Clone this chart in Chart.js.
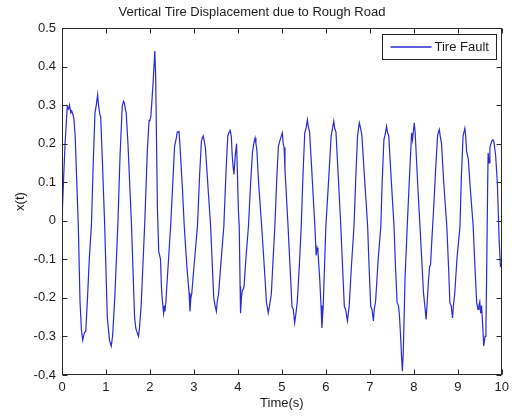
<!DOCTYPE html>
<html>
<head>
<meta charset="utf-8">
<script src="https://cdn.jsdelivr.net/npm/chart.js@4.4.1/dist/chart.umd.min.js"></script>
<style>
  html, body { margin: 0; padding: 0; background: #fff; }
  canvas { display: block; }
</style>
</head>
<body>
<canvas id="tireChart" width="514" height="417"></canvas>
<script>
// values
const timeSec = [
  0.00, 0.01, 0.04, 0.07, 0.10, 0.12, 0.15, 0.17, 0.20, 0.22, 0.25, 0.27, 0.30, 0.33, 0.37, 0.41, 0.44, 0.47, 0.49, 0.51,
  0.54, 0.58, 0.62, 0.67, 0.71, 0.75, 0.78, 0.81, 0.83, 0.86, 0.88, 0.92, 0.97, 1.03, 1.08, 1.12, 1.15, 1.20, 1.27, 1.32,
  1.37, 1.40, 1.42, 1.44, 1.46, 1.50, 1.58, 1.65, 1.68, 1.71, 1.74, 1.76, 1.80, 1.88, 1.94, 1.98, 2.00, 2.02, 2.05, 2.08,
  2.11, 2.13, 2.15, 2.17, 2.20, 2.22, 2.24, 2.26, 2.28, 2.31, 2.33, 2.34, 2.36, 2.40, 2.47, 2.52, 2.56, 2.60, 2.62, 2.66,
  2.68, 2.70, 2.74, 2.78, 2.84, 2.89, 2.91, 2.93, 2.95, 3.00, 3.08, 3.13, 3.17, 3.19, 3.21, 3.23, 3.26, 3.29, 3.33, 3.38,
  3.45, 3.48, 3.51, 3.53, 3.56, 3.62, 3.68, 3.73, 3.77, 3.80, 3.82, 3.85, 3.87, 3.89, 3.91, 3.94, 3.97, 3.99, 4.01, 4.03,
  4.05, 4.06, 4.08, 4.10, 4.12, 4.14, 4.18, 4.24, 4.29, 4.33, 4.36, 4.39, 4.41, 4.43, 4.47, 4.54, 4.60, 4.65, 4.67, 4.69,
  4.72, 4.76, 4.80, 4.84, 4.88, 4.92, 4.96, 5.01, 5.03, 5.05, 5.07, 5.10, 5.14, 5.19, 5.23, 5.26, 5.29, 5.32, 5.35, 5.40,
  5.44, 5.48, 5.52, 5.55, 5.58, 5.60, 5.63, 5.68, 5.75, 5.78, 5.80, 5.82, 5.86, 5.89, 5.91, 5.94, 6.00, 6.06, 6.12, 6.18,
  6.20, 6.23, 6.28, 6.34, 6.38, 6.42, 6.45, 6.49, 6.51, 6.53, 6.58, 6.64, 6.68, 6.72, 6.76, 6.79, 6.82, 6.88, 6.95, 6.98,
  7.02, 7.05, 7.08, 7.10, 7.13, 7.19, 7.25, 7.28, 7.32, 7.35, 7.38, 7.40, 7.43, 7.49, 7.55, 7.58, 7.62, 7.65, 7.67, 7.70,
  7.72, 7.74, 7.76, 7.78, 7.80, 7.85, 7.90, 7.95, 7.97, 8.01, 8.03, 8.06, 8.10, 8.14, 8.18, 8.22, 8.25, 8.28, 8.30, 8.33,
  8.36, 8.38, 8.41, 8.45, 8.50, 8.54, 8.56, 8.58, 8.60, 8.63, 8.68, 8.75, 8.79, 8.82, 8.85, 8.88, 8.90, 8.93, 8.98, 9.05,
  9.08, 9.12, 9.16, 9.18, 9.20, 9.22, 9.24, 9.28, 9.35, 9.39, 9.43, 9.46, 9.48, 9.50, 9.52, 9.54, 9.57, 9.59, 9.62, 9.64,
  9.66, 9.68, 9.69, 9.71, 9.73, 9.77, 9.80, 9.82, 9.86, 9.90, 9.94, 9.97, 10.00
];
const displacement = [
  0.00, 0.03, 0.12, 0.20, 0.26, 0.297, 0.29, 0.30, 0.28, 0.285, 0.275, 0.265, 0.22, 0.12, -0.01, -0.21, -0.28, -0.31, -0.30, -0.29,
  -0.287, -0.20, -0.10, -0.01, 0.15, 0.28, 0.30, 0.327, 0.30, 0.276, 0.27, 0.15, -0.01, -0.25, -0.31, -0.325, -0.30, -0.20, -0.01, 0.17,
  0.297, 0.31, 0.305, 0.29, 0.28, 0.20, -0.01, -0.25, -0.28, -0.29, -0.30, -0.28, -0.22, -0.01, 0.18, 0.26, 0.262, 0.27, 0.32, 0.375,
  0.44, 0.375, 0.20, 0.03, -0.08, -0.09, -0.10, -0.17, -0.204, -0.24, -0.22, -0.235, -0.213, -0.14, -0.014, 0.10, 0.193, 0.215, 0.23, 0.232,
  0.20, 0.16, 0.08, -0.014, -0.12, -0.187, -0.235, -0.20, -0.19, -0.12, -0.014, 0.12, 0.206, 0.215, 0.22, 0.21, 0.19, 0.14, 0.07, -0.014,
  -0.20, -0.22, -0.235, -0.21, -0.19, -0.10, -0.014, 0.13, 0.22, 0.23, 0.237, 0.22, 0.17, 0.14, 0.12, 0.17, 0.20, 0.12, 0.03, -0.014,
  -0.17, -0.24, -0.20, -0.18, -0.178, -0.17, -0.10, -0.014, 0.10, 0.176, 0.20, 0.215, 0.20, 0.185, 0.10, -0.014, -0.12, -0.213, -0.225, -0.239,
  -0.22, -0.19, -0.10, -0.014, 0.10, 0.193, 0.21, 0.228, 0.20, 0.19, 0.133, 0.07, -0.014, -0.13, -0.222, -0.23, -0.265, -0.24, -0.21, -0.11,
  -0.014, 0.12, 0.228, 0.24, 0.262, 0.245, 0.23, 0.13, -0.014, -0.09, -0.07, -0.08, -0.15, -0.22, -0.278, -0.22, -0.014, 0.10, 0.22, 0.258,
  0.24, 0.23, 0.12, -0.014, -0.12, -0.222, -0.23, -0.26, -0.24, -0.222, -0.12, -0.014, 0.11, 0.22, 0.254, 0.24, 0.22, 0.11, -0.014, -0.11,
  -0.222, -0.23, -0.26, -0.23, -0.21, -0.10, -0.014, 0.10, 0.21, 0.225, 0.245, 0.23, 0.22, 0.10, -0.014, -0.11, -0.213, -0.22, -0.24, -0.30,
  -0.35, -0.39, -0.34, -0.25, -0.15, -0.014, 0.11, 0.228, 0.21, 0.254, 0.23, 0.16, 0.07, -0.014, -0.10, -0.187, -0.22, -0.256, -0.22, -0.16,
  -0.118, -0.115, -0.05, 0.03, 0.14, 0.22, 0.23, 0.237, 0.22, 0.20, 0.10, -0.014, -0.12, -0.213, -0.22, -0.252, -0.22, -0.19, -0.10, -0.014,
  0.11, 0.22, 0.24, 0.22, 0.18, 0.17, 0.159, 0.09, -0.014, -0.12, -0.213, -0.23, -0.22, -0.21, -0.24, -0.22, -0.28, -0.325, -0.30, -0.28,
  -0.10, 0.10, 0.176, 0.15, 0.19, 0.206, 0.21, 0.206, 0.17, 0.098, -0.05, -0.118, -0.12
];
const xTicks = [0, 1, 2, 3, 4, 5, 6, 7, 8, 9, 10];
const yTicks = [-0.4, -0.3, -0.2, -0.1, 0, 0.1, 0.2, 0.3, 0.4, 0.5];

const FONT = "'Liberation Sans', Arial, Helvetica, sans-serif";
const INK = "#1c1c1c";
const LINE_BLUE = "#2a2ad8";

// matlab style box with inward ticks on every side + boxed legend top right
const matlabBox = {
  id: "matlabBox",
  afterDraw(chart) {
    const { ctx, chartArea: a, scales } = chart;
    const L = Math.round(a.left) + 0.5, R = Math.round(a.right) - 0.5;
    const T = Math.round(a.top) + 0.5, B = Math.round(a.bottom) - 0.5;
    ctx.save();
    ctx.strokeStyle = "#2a2a2a";
    ctx.lineWidth = 1;
    ctx.strokeRect(L, T, R - L, B - T);
    ctx.beginPath();
    scales.x.ticks.forEach(t => {
      const px = Math.round(scales.x.getPixelForValue(t.value)) + 0.5;
      ctx.moveTo(px, B); ctx.lineTo(px, B - 5);
      ctx.moveTo(px, T); ctx.lineTo(px, T + 5);
    });
    scales.y.ticks.forEach(t => {
      const py = Math.round(scales.y.getPixelForValue(t.value)) + 0.5;
      ctx.moveTo(L, py); ctx.lineTo(L + 5, py);
      ctx.moveTo(R, py); ctx.lineTo(R - 5, py);
    });
    ctx.stroke();

    // legend
    const ds = chart.data.datasets[0];
    const bx = R - 119, by = T + 6, bw = 114, bh = 25;
    ctx.fillStyle = "#fff";
    ctx.fillRect(bx, by, bw, bh);
    ctx.strokeStyle = "#222";
    ctx.lineWidth = 1;
    ctx.strokeRect(bx, by, bw, bh);
    const cy = Math.round(by + bh / 2);
    ctx.beginPath();
    ctx.strokeStyle = ds.borderColor;
    ctx.lineWidth = 1.5;
    ctx.moveTo(bx + 8, cy); ctx.lineTo(bx + 49, cy);
    ctx.stroke();
    ctx.fillStyle = INK;
    ctx.font = "13px " + FONT;
    ctx.textBaseline = "middle";
    ctx.textAlign = "left";
    ctx.fillText(ds.label, bx + 52, cy);
    ctx.restore();
  }
};

new Chart(document.getElementById("tireChart"), {
  type: "line",
  data: {
    datasets: [{
      label: "Tire Fault",
      data: timeSec.map((t, i) => ({ x: t, y: displacement[i] })),
      borderColor: LINE_BLUE,
      backgroundColor: LINE_BLUE,
      borderWidth: 1.2,
      pointRadius: 0,
      tension: 0,
      fill: false
    }]
  },
  options: {
    responsive: false,
    animation: false,
    layout: { padding: { left: 0, right: 10, top: 0, bottom: 0 } },
    plugins: {
      title: {
        display: true,
        text: "Vertical Tire Displacement due to Rough Road",
        color: INK,
        font: { family: FONT, size: 13, weight: "normal" },
        padding: { top: 5, bottom: 7.4 }
      },
      legend: { display: false },
      tooltip: { enabled: false }
    },
    scales: {
      x: {
        type: "linear",
        min: 0,
        max: 10,
        afterBuildTicks: s => { s.ticks = xTicks.map(v => ({ value: v })); },
        afterFit: s => { s.height = 42; },
        grid: { display: false, drawTicks: false },
        border: { display: false },
        ticks: { color: INK, font: { family: FONT, size: 13 }, padding: 5, maxRotation: 0 },
        title: {
          display: true, text: "Time(s)", color: INK,
          font: { family: FONT, size: 13 }, padding: { top: 0, bottom: 6 }
        }
      },
      y: {
        min: -0.4,
        max: 0.5,
        afterBuildTicks: s => { s.ticks = yTicks.map(v => ({ value: v })); },
        afterFit: s => { s.width = 62; },
        grid: { display: false, drawTicks: false },
        border: { display: false },
        ticks: {
          color: INK, font: { family: FONT, size: 13 }, padding: 6,
          callback: v => Math.abs(v) < 1e-9 ? "0" : String(Math.round(v * 10) / 10)
        },
        title: {
          display: true, text: "x(t)", color: INK,
          font: { family: FONT, size: 13 }, padding: { top: 13, bottom: 0 }
        }
      }
    }
  },
  plugins: [matlabBox]
});
</script>
</body>
</html>
